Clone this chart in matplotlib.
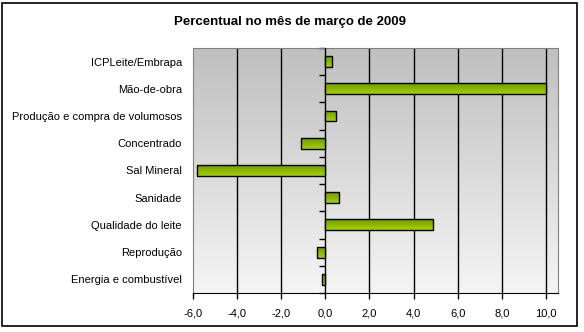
import numpy as np
import matplotlib
matplotlib.use('Agg')
import matplotlib.pyplot as plt
from matplotlib.colors import LinearSegmentedColormap
from matplotlib.patches import Rectangle
from matplotlib.ticker import FuncFormatter

plt.rcParams['font.family'] = ['Liberation Sans', 'DejaVu Sans']

# categories top to bottom, percent change in March 2009
categories = ['ICPLeite/Embrapa', 'Mão-de-obra', 'Produção e compra de volumosos',
              'Concentrado', 'Sal Mineral', 'Sanidade', 'Qualidade do leite',
              'Reprodução', 'Energia e combustível']
values = [0.28, 10.0, 0.5, -1.1, -5.83, 0.63, 4.88, -0.37, -0.14]
x_ticks = [-6, -4, -2, 0, 2, 4, 6, 8, 10]

xmin, xmax = -6, 10.55

fig = plt.figure(figsize=(5.84, 3.32), dpi=100)
ax = fig.add_axes([0.3305, 0.1175, 0.625, 0.738])

# outer frame of the chart
fig.patches.append(Rectangle((2 / 584, 6 / 332), 575 / 584, 323 / 332, transform=fig.transFigure,
                             fill=False, edgecolor='black', linewidth=1.2))

ypos = np.arange(len(categories))[::-1]
ax.set_xlim(xmin, xmax)
ax.set_ylim(-0.5, len(categories) - 0.5)

# background gradient, dark grey at the top to near white at the bottom
bg = LinearSegmentedColormap.from_list('bg', ['#f5f5f5', '#bfbfbf'])
ax.imshow(np.linspace(0, 1, 256).reshape(-1, 1), cmap=bg, aspect='auto',
          extent=(xmin, xmax, -0.5, len(categories) - 0.5), origin='lower', zorder=0)

for t in x_ticks:
    if t not in (xmin, 0):
        ax.axvline(t, color='black', linewidth=1, zorder=1)
ax.axvline(0, color='black', linewidth=1, zorder=3)

bars = ax.barh(ypos, values, height=0.4, color='none', edgecolor='black', linewidth=1, zorder=4)
green = LinearSegmentedColormap.from_list('green', ['#a6d000', '#6e9c00'])
for b in bars:
    x0, y0 = b.get_x(), b.get_y()
    w, h = b.get_width(), b.get_height()
    im = ax.imshow(np.linspace(0, 1, 64).reshape(-1, 1), cmap=green, aspect='auto',
                   extent=(x0, x0 + w, y0, y0 + h), origin='lower', zorder=3.5)
    im.set_clip_path(b)

ax.set_xticks(x_ticks)
ax.xaxis.set_major_formatter(FuncFormatter(lambda v, p: f'{v:.1f}'.replace('.', ',')))
ax.set_yticks(ypos)
ax.set_yticklabels(categories)
ax.tick_params(axis='y', length=0, pad=8, labelsize=8)
ax.tick_params(axis='x', length=4, width=1, color='black', labelsize=8, pad=7)

for s in ['top', 'right', 'left']:
    ax.spines[s].set_color('#808080')
ax.spines['bottom'].set_color('black')

# category-boundary ticks on the zero axis
sec = ax.secondary_yaxis((0 - xmin) / (xmax - xmin))
sec.spines['right'].set_visible(False)
sec.spines['left'].set_visible(False)
sec.set_yticks(np.arange(-0.5, len(categories), 1))
sec.tick_params(axis='y', length=4, width=1, color='black', labelleft=False, direction='out')

fig.text(0.497, 0.935, 'Percentual no mês de março de 2009', ha='center', va='center',
         fontsize=9.5, fontweight='bold')

fig.savefig('out.png', dpi=100)
